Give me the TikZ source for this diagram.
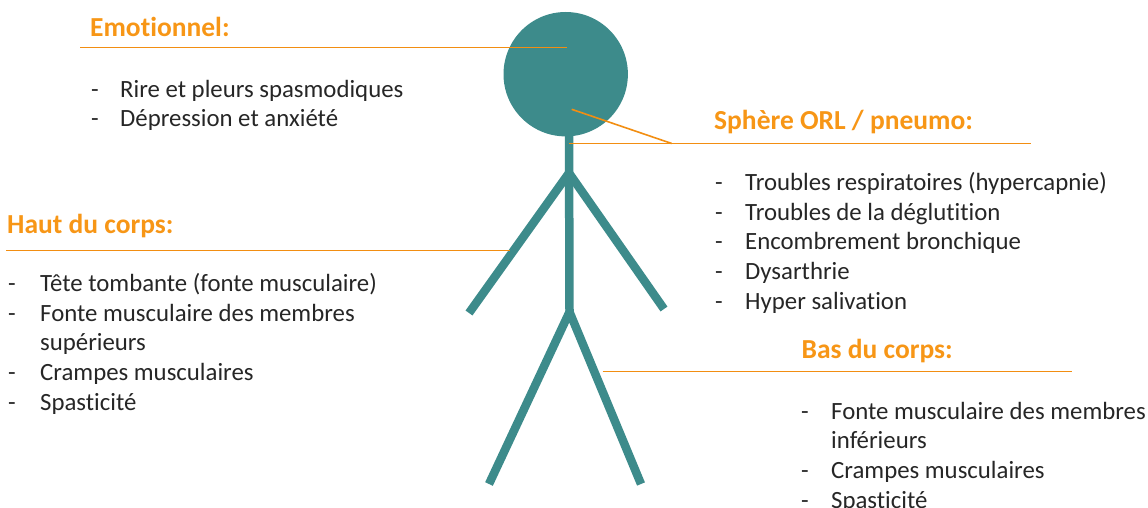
\documentclass[tikz,border=0pt]{standalone}
\usepackage{fontspec}
\setmainfont{Carlito}[Ligatures={NoCommon}]
\usetikzlibrary{calc}

\definecolor{sarcelle}{RGB}{61,139,139}
\definecolor{orangetitre}{RGB}{247,150,22}
\definecolor{orangetrait}{RGB}{242,142,18}

\tikzset{
	corps/.style={line width=8.5pt, sarcelle},
	trait/.style={line width=1.6pt, orangetrait},
	titre/.style={inner sep=0pt, anchor=base west, orangetitre, font=\fontsize{27.5}{30}\selectfont\bfseries},
	puce/.style={inner sep=0pt, anchor=base west, black!85, font=\fontsize{24.8}{29.6}\selectfont},
	item/.style={inner sep=0pt, anchor=base west, black!85, font=\fontsize{24.8}{29.6}\selectfont}
}

\begin{document}
\begin{tikzpicture}[x=1pt, y=-1pt]
	\useasboundingbox (0,0) rectangle (1148,508);

	% le bonhomme
	\coordinate (cou) at (569,130);
	\coordinate (epaules) at (569,173);
	\coordinate (hanche) at (569.5,312);
	\coordinate (mainG) at (469,313);
	\coordinate (mainD) at (664,309);
	\coordinate (piedG) at (489,484);
	\coordinate (piedD) at (641,484);
	\draw[corps] (cou) -- (hanche);
	\draw[corps] (mainG) -- (epaules) -- (mainD);
	\draw[corps, line join=miter] (piedG) -- (hanche) -- (piedD);
	\fill[sarcelle] (565.7,74.2) circle (62.2);

	% traits de rappel
	\coordinate (emoA) at (80,47.5);
	\coordinate (emoB) at (566.7,47.5);
	\coordinate (orlA) at (571.7,109.3);
	\coordinate (orlB) at (671.7,143.5);
	\coordinate (orlC) at (569,143.5);
	\coordinate (orlD) at (1031,143.5);
	\coordinate (hautA) at (6,250.5);
	\coordinate (hautB) at (510,250.5);
	\coordinate (basA) at (602.7,371.5);
	\coordinate (basB) at (1072,371.5);
	\draw[trait] (emoA) -- (emoB);
	\draw[trait] (orlA) -- (orlB);
	\draw[trait] (orlC) -- (orlD);
	\draw[trait] (hautA) -- (hautB);
	\draw[trait] (basA) -- (basB);

	% titres
	\node[titre] (emo) at (90,36.7) {Emotionnel:};
	\node[titre] (orl) at (714,129.3) {Sphère ORL / pneumo:};
	\node[titre] (haut) at (7,233.3) {Haut du corps:};
	\node[titre] (bas) at (801.5,358.3) {Bas du corps:};

	% listes
	\foreach \k/\d/\txt in {0/-/{Rire et pleurs spasmodiques}, 1/-/{Dépression et anxiété}}{
		\node[puce] (emod\k) at (91,97.3+29.6*\k) {\d};
		\node[item] (emo\k) at (120,97.3+29.6*\k) {\txt};
	}
	\foreach \k/\d/\txt in {0/-/{Troubles respiratoires (hypercapnie)}, 1/-/{Troubles de la déglutition},
		2/-/{Encombrement bronchique}, 3/-/{Dysarthrie}, 4/-/{Hyper salivation}}{
		\node[puce] (orld\k) at (715,190.7+29.6*\k) {\d};
		\node[item] (orl\k) at (745,190.7+29.6*\k) {\txt};
	}
	\foreach \k/\d/\txt in {0/-/{Tête tombante (fonte musculaire)}, 1/-/{Fonte musculaire des membres},
		2//{supérieurs}, 3/-/{Crampes musculaires}, 4/-/{Spasticité}}{
		\node[puce] (hautd\k) at (8,291.7+29.6*\k) {\d};
		\node[item] (haut\k) at (40,291.7+29.6*\k) {\txt};
	}
	\foreach \k/\d/\txt in {0/-/{Fonte musculaire des membres}, 1//{inférieurs},
		2/-/{Crampes musculaires}, 3/-/{Spasticité}}{
		\node[puce] (basd\k) at (801,419.3+29.6*\k) {\d};
		\node[item] (bas\k) at (831,419.3+29.6*\k) {\txt};
	}
\end{tikzpicture}
\end{document}
